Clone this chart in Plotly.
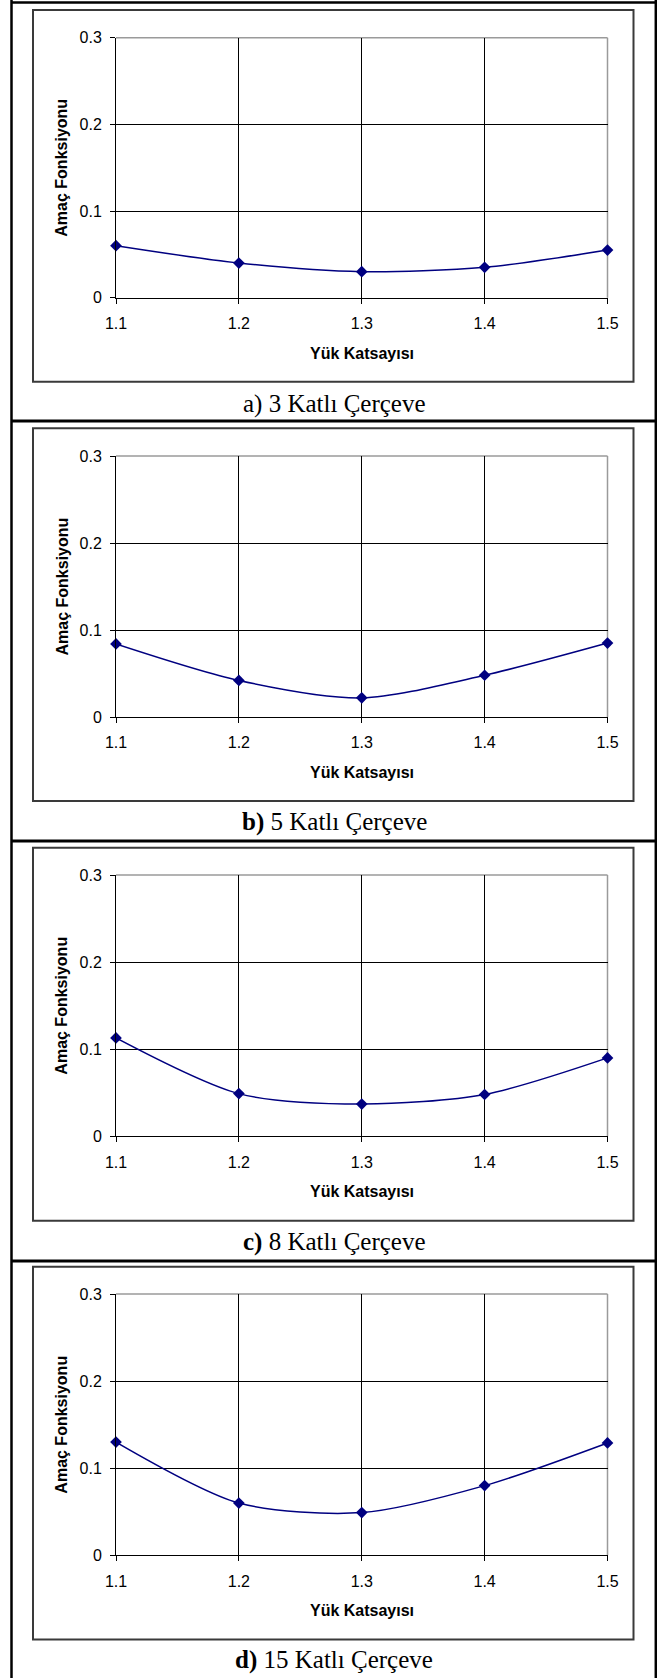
import plotly.graph_objects as go

# ---- data ----
load_factor = [1.1, 1.2, 1.3, 1.4, 1.5]
x_tick_labels = ["1.1", "1.2", "1.3", "1.4", "1.5"]
y_tick_vals = [0, 0.1, 0.2, 0.3]
y_tick_labels = ["0", "0.1", "0.2", "0.3"]
obj_3 = [0.060, 0.040, 0.030, 0.035, 0.055]
obj_5 = [0.084, 0.042, 0.022, 0.048, 0.085]
obj_8 = [0.113, 0.049, 0.037, 0.048, 0.090]
obj_15 = [0.130, 0.060, 0.049, 0.080, 0.129]
captions = ["a) 3 Katlı Çerçeve", "<b>b)</b> 5 Katlı Çerçeve",
            "<b>c)</b> 8 Katlı Çerçeve", "<b>d)</b> 15 Katlı Çerçeve"]
x_title = "Yük Katsayısı"
y_title = "Amaç Fonksiyonu"
series = [obj_3, obj_5, obj_8, obj_15]

W, H = 657, 1678
def px(x):
    return x / W
def py(y):
    return 1 - y / H

# layout geometry (pixels)
plot_x0, plot_x1 = 116, 607.5
plot_tops = [37.7, 456, 875, 1294]
plot_bots = [297.7, 717, 1136.3, 1555.3]
box_tops = [10, 428.3, 847.7, 1266.7]
box_bots = [381.7, 801, 1220.7, 1639.5]
cap_y = [403.5, 822, 1242, 1660]
separators = [421, 841, 1261]

SANS = "Liberation Sans, Arial, sans-serif"
SERIF = "Liberation Serif, Times New Roman, serif"
NAVY = "#000080"

fig = go.Figure()
layout = dict(template="none", width=W, height=H, autosize=False,
              margin=dict(l=0, r=0, t=0, b=0, pad=0, autoexpand=False),
              paper_bgcolor="white", plot_bgcolor="white", showlegend=False)
shapes = []
annotations = []

for i, ys in enumerate(series):
    n = "" if i == 0 else str(i + 1)
    xa, ya = "x" + n, "y" + n
    fig.add_trace(go.Scatter(
        x=load_factor, y=ys, xaxis=xa, yaxis=ya, mode="lines+markers",
        line=dict(color=NAVY, width=1.5, shape="spline", smoothing=0.8),
        marker=dict(symbol="diamond", size=9, color=NAVY),
        cliponaxis=False, hoverinfo="x+y"))
    layout["xaxis" + n] = dict(
        domain=[px(plot_x0), px(plot_x1)], anchor=ya, range=[1.1, 1.5], automargin=False,
        tickmode="array", tickvals=load_factor, ticktext=x_tick_labels,
        showgrid=True, gridcolor="#000000", gridwidth=1,
        showline=True, linecolor="#000000", linewidth=1,
        ticks="outside", ticklen=5, tickcolor="#000000", zeroline=False,
        tickfont=dict(family=SANS, size=16, color="#000000"),
        ticklabelstandoff=6, fixedrange=True)
    layout["yaxis" + n] = dict(
        domain=[py(plot_bots[i]), py(plot_tops[i])], anchor=xa, range=[0, 0.3], automargin=False,
        tickmode="array", tickvals=y_tick_vals, ticktext=y_tick_labels,
        showgrid=True, gridcolor="#000000", gridwidth=1,
        showline=True, linecolor="#000000", linewidth=1,
        ticks="outside", ticklen=5, tickcolor="#000000", zeroline=False,
        tickfont=dict(family=SANS, size=16, color="#000000"),
        ticklabelstandoff=5, fixedrange=True)
    # plot area top/right border (gray)
    shapes.append(dict(type="line", xref="paper", yref="paper",
                       x0=px(plot_x0), x1=px(plot_x1), y0=py(plot_tops[i]), y1=py(plot_tops[i]),
                       line=dict(color="#9a9a9a", width=1.5), layer="below"))
    shapes.append(dict(type="line", xref="paper", yref="paper",
                       x0=px(plot_x1), x1=px(plot_x1), y0=py(plot_tops[i]), y1=py(plot_bots[i]),
                       line=dict(color="#9a9a9a", width=1.5), layer="below"))
    # chart box
    shapes.append(dict(type="rect", xref="paper", yref="paper",
                       x0=px(33), x1=px(633.5), y0=py(box_bots[i]), y1=py(box_tops[i]),
                       line=dict(color="#3a3a3a", width=2), layer="below"))
    # axis titles
    annotations.append(dict(text="<b>" + x_title + "</b>", xref="paper", yref="paper",
                            x=px((plot_x0 + plot_x1) / 2), y=py(plot_bots[i] + 55.5),
                            xanchor="center", yanchor="middle", showarrow=False,
                            font=dict(family=SANS, size=16, color="#000000")))
    annotations.append(dict(text="<b>" + y_title + "</b>", xref="paper", yref="paper",
                            x=px(62), y=py((plot_tops[i] + plot_bots[i]) / 2),
                            xanchor="center", yanchor="middle", showarrow=False, textangle=-90,
                            font=dict(family=SANS, size=16, color="#000000")))
    # caption
    annotations.append(dict(text=captions[i], xref="paper", yref="paper",
                            x=px(334), y=py(cap_y[i]), xanchor="center", yanchor="middle",
                            showarrow=False,
                            font=dict(family=SERIF, size=25, color="#000000")))

# outer table frame lines
shapes.append(dict(type="line", xref="paper", yref="paper", x0=px(11.5), x1=px(11.5), y0=0, y1=1,
                   line=dict(color="#000000", width=2.5)))
shapes.append(dict(type="line", xref="paper", yref="paper", x0=px(655.8), x1=px(655.8), y0=0, y1=1,
                   line=dict(color="#000000", width=2.5)))
shapes.append(dict(type="line", xref="paper", yref="paper", x0=px(11.5), x1=1, y0=py(2.5), y1=py(2.5),
                   line=dict(color="#000000", width=2.5)))
for s in separators:
    shapes.append(dict(type="line", xref="paper", yref="paper", x0=px(11.5), x1=1, y0=py(s), y1=py(s),
                       line=dict(color="#000000", width=3)))

layout["shapes"] = shapes
layout["annotations"] = annotations
fig.update_layout(**layout)
fig.write_html("out.html", config={"responsive": False, "displayModeBar": False},
               post_script="document.body.style.margin='0';document.body.style.padding='0';"
                           "document.documentElement.style.overflow='hidden';")
